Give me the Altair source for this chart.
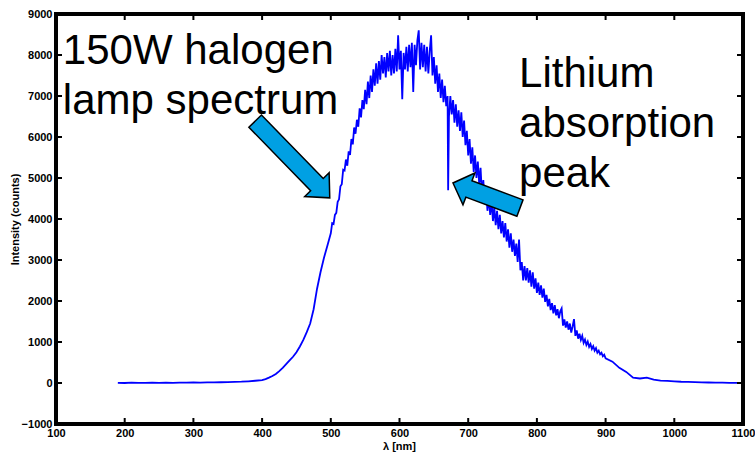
import altair as alt
import pandas as pd

# ---------------- data ----------------
wl_a = list(range(190, 400, 10))          # 21 points, flat baseline
int_a = [5, 0, 8, 3, 2, 6, 4, 8, 5, 10, 8, 12, 10, 15, 14, 18, 22, 28, 32, 42, 55]

wl_b = list(range(400, 500, 5))           # 20 points, rising edge
int_b = [70, 95, 130, 170, 220, 290, 370, 460, 550, 640,
         750, 890, 1050, 1240, 1450, 1800, 2300, 2700, 3050, 3350]

wl_c = list(range(500, 900, 2))           # 200 points, noisy body
int_c = [
    3650, 3900, 3880, 4100, 4150, 4420, 4480, 4800, 4850, 5200, 5180,
    5450, 5300, 5650, 5560, 5950, 5820, 6230, 6080, 6420, 6250, 6700, 6480, 6900, 6680, 7150,
    6800, 7350, 6950, 7500, 7100, 7650, 7250, 7800, 7300, 7850,
    7400, 8000, 7550, 7950, 7450, 8050, 7600, 8100, 7500, 8000,
    7550, 8150, 7600, 8480, 7650, 8100, 6920, 8050, 7650, 8200,
    7600, 8250, 7700, 8300, 7100, 8250, 7750, 8350, 8600, 7650,
    8300, 7700, 8250, 7600, 8200, 7550, 8100, 8480, 7500, 7950,
    7300, 7750, 7100, 7550, 6950,
    7400, 6850, 7250, 6750, 7000,
    6500, 7000, 6550, 6900, 6350, 6800, 6250, 6650, 6150, 6600,
    6000, 6400, 5800, 6150, 5550, 5950, 5350, 5750, 5150, 5550,
    5000, 5400, 4850, 5250, 4600, 4950, 4400, 4750, 4200, 4550,
    4100, 4450, 3950, 4300, 3850, 4200, 3750, 4100, 3650, 3950,
    3550, 3900, 3450, 3750, 3300, 3650, 3200, 3500, 3100, 3400,
    2950, 3500, 2750, 2950, 2500, 2850, 2500, 2800, 2450, 2750,
    2350, 2700, 2300, 2550, 2200,
    2450, 2150, 2380, 2080, 2300, 1980, 2150, 1870, 2050, 1780,
    1950, 1700, 1900, 1650, 1800, 1580, 1750, 1820, 1400, 1550,
    1350, 1500, 1300, 1450, 1230, 1380, 1560, 1150, 1280, 1080,
    1200, 1050, 1150, 980, 1060, 930, 1010, 880, 950, 830,
    900, 790, 850, 740, 790, 700, 740, 650, 690,
]

wl_d = list(range(900, 1101, 10))         # 21 points, tail
int_d = [600, 520, 370, 270, 130, 110, 130, 80, 60, 50, 40, 30, 25, 20, 15, 12, 10, 8, 5, 5, 3]

li_wl = [670.8]                            # lithium absorption line
li_int = [4700]

x_ticks = [100, 200, 300, 400, 500, 600, 700, 800, 900, 1000, 1100]
y_ticks = [-1000, 0, 1000, 2000, 3000, 4000, 5000, 6000, 7000, 8000, 9000]

# annotation texts and their anchor positions (data units)
label_text = ["150W halogen", "lamp spectrum", "Lithium", "absorption", "peak"]
label_wl = [110, 110, 774, 774, 774]
label_cnt = [7780, 6560, 7220, 6000, 4780]

# arrows: centre positions (data units)
arrow_wl = [444.2, 726.6]
arrow_cnt = [5451, 4573]

# ---------------- build ----------------
spec = pd.DataFrame({
    "wl": wl_a + wl_b + wl_c + li_wl + wl_d,
    "counts": int_a + int_b + int_c + li_int + int_d,
}).sort_values("wl")

xs = alt.Scale(domain=[100, 1100], nice=False, zero=False)
ys = alt.Scale(domain=[-1000, 9000], nice=False, zero=False)

FONT = "Liberation Sans"
common = dict(labelFont=FONT, labelFontSize=11, labelFontWeight="bold", labelColor="black",
              titleFont=FONT, titleFontSize=11, titleFontWeight="bold", titleColor="black",
              tickSize=0, ticks=False, domain=False, grid=False, labelOverlap=False,
              labelFlush=False, format="d")
xa = alt.Axis(values=x_ticks, title="λ [nm]", labelPadding=3,
              titleX=343, titleY=22, titleBaseline="middle", titleAlign="center", **common)
ya = alt.Axis(values=y_ticks, title="Intensity (counts)", labelPadding=4,
              titleX=-41, titleY=205, titleAngle=270, titleBaseline="middle",
              titleAlign="center", **common)


def X(field):
    return alt.X(field, scale=xs, axis=xa)


def Y(field):
    return alt.Y(field, scale=ys, axis=ya)


line = alt.Chart(spec).mark_line(color="#0000FF", strokeWidth=1.8).encode(
    x=X("wl:Q"), y=Y("counts:Q"))

xt = pd.DataFrame({"wl": x_ticks})
yt = pd.DataFrame({"counts": y_ticks})
TK = dict(color="black", strokeWidth=2)
left_t = alt.Chart(yt).mark_rule(**TK).encode(y=Y("counts:Q"), x=alt.value(0), x2=alt.value(6))
right_t = alt.Chart(yt).mark_rule(**TK).encode(y=Y("counts:Q"), x=alt.value(687), x2=alt.value(681))
bot_t = alt.Chart(xt).mark_rule(**TK).encode(x=X("wl:Q"), y=alt.value(410), y2=alt.value(404))
top_t = alt.Chart(xt).mark_rule(**TK).encode(x=X("wl:Q"), y=alt.value(0), y2=alt.value(6))

# box frame (MATLAB style, thick)
FR = dict(color="black", strokeWidth=2.8, strokeCap="square")
fr_l = alt.Chart(yt).mark_rule(**FR).encode(x=alt.value(0), y=alt.value(0), y2=alt.value(410))
fr_r = alt.Chart(yt).mark_rule(**FR).encode(x=alt.value(687), y=alt.value(0), y2=alt.value(410))
fr_t = alt.Chart(xt).mark_rule(**FR).encode(y=alt.value(0), x=alt.value(0), x2=alt.value(687))
fr_b = alt.Chart(xt).mark_rule(**FR).encode(y=alt.value(410), x=alt.value(0), x2=alt.value(687))

ARROW_FILL = "#00A0E3"
left_path = "M-1,-0.164L0.656,-0.164L0.656,-0.318L1,0L0.656,0.318L0.656,0.164L-1,0.164Z"
right_path = "M-1,-0.245L0.524,-0.245L0.524,-0.476L1,0L0.524,0.476L0.524,0.245L-1,0.245Z"

arr1 = alt.Chart(pd.DataFrame({"wl": [arrow_wl[0]], "counts": [arrow_cnt[0]]})).mark_point(
    shape=left_path, size=107 ** 2, angle=45.8, filled=True, fill=ARROW_FILL,
    stroke="black", strokeWidth=1.5, opacity=1).encode(x=X("wl:Q"), y=Y("counts:Q"))
arr2 = alt.Chart(pd.DataFrame({"wl": [arrow_wl[1]], "counts": [arrow_cnt[1]]})).mark_point(
    shape=right_path, size=71.5 ** 2, angle=200.5, filled=True, fill=ARROW_FILL,
    stroke="black", strokeWidth=1.5, opacity=1).encode(x=X("wl:Q"), y=Y("counts:Q"))

labels = alt.Chart(pd.DataFrame({"wl": label_wl, "counts": label_cnt, "t": label_text})).mark_text(
    font=FONT, fontSize=42, align="left", baseline="alphabetic", color="black").encode(
    x=X("wl:Q"), y=Y("counts:Q"), text="t:N")

chart = alt.layer(line, left_t, right_t, bot_t, top_t, fr_l, fr_r, fr_t, fr_b,
                  arr1, arr2, labels).properties(
    width=687, height=410,
    autosize=alt.AutoSizeParams(type="none"),
    padding={"left": 56, "top": 14, "right": 12, "bottom": 29},
    background="white",
).configure_view(stroke=None)

chart.save("out.html", embed_options={"renderer": "svg", "actions": False})
